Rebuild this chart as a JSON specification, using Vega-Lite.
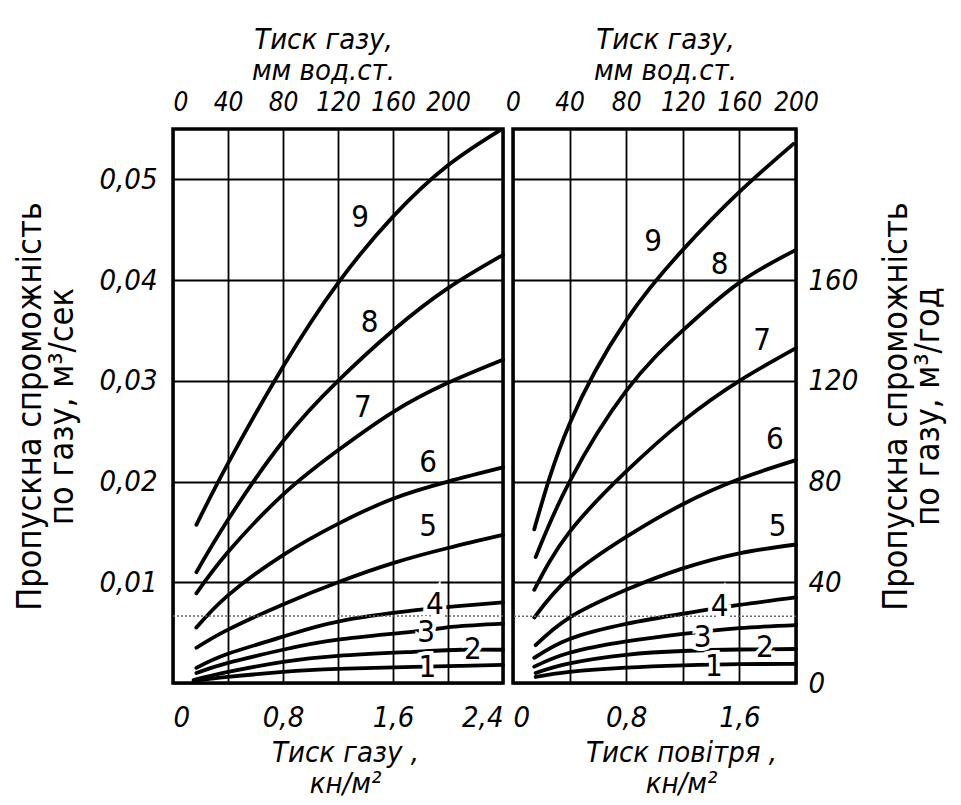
{
  "$schema": "https://vega.github.io/schema/vega-lite/v6.json",
  "background": "white",
  "padding": {"left": 12, "top": 23, "right": 5, "bottom": 5},
  "spacing": -10,
  "datasets": {
    "left": [
      {"c": 9, "p": 0.17, "q": 0.0157}, {"c": 9, "p": 0.4, "q": 0.0218}, {"c": 9, "p": 0.8, "q": 0.0314}, {"c": 9, "p": 1.2, "q": 0.0397}, {"c": 9, "p": 1.6, "q": 0.0463}, {"c": 9, "p": 2.0, "q": 0.0514}, {"c": 9, "p": 2.38, "q": 0.0549},
      {"c": 8, "p": 0.17, "q": 0.0110}, {"c": 8, "p": 0.4, "q": 0.0162}, {"c": 8, "p": 0.8, "q": 0.0240}, {"c": 8, "p": 1.2, "q": 0.0300}, {"c": 8, "p": 1.6, "q": 0.0350}, {"c": 8, "p": 2.0, "q": 0.0392}, {"c": 8, "p": 2.4, "q": 0.0425},
      {"c": 7, "p": 0.17, "q": 0.0089}, {"c": 7, "p": 0.4, "q": 0.0130}, {"c": 7, "p": 0.8, "q": 0.0187}, {"c": 7, "p": 1.2, "q": 0.0231}, {"c": 7, "p": 1.6, "q": 0.0269}, {"c": 7, "p": 2.0, "q": 0.0298}, {"c": 7, "p": 2.4, "q": 0.0321},
      {"c": 6, "p": 0.17, "q": 0.0055}, {"c": 6, "p": 0.4, "q": 0.0087}, {"c": 6, "p": 0.8, "q": 0.0127}, {"c": 6, "p": 1.2, "q": 0.0158}, {"c": 6, "p": 1.6, "q": 0.0183}, {"c": 6, "p": 2.0, "q": 0.0200}, {"c": 6, "p": 2.4, "q": 0.0214},
      {"c": 5, "p": 0.17, "q": 0.0035}, {"c": 5, "p": 0.4, "q": 0.0053}, {"c": 5, "p": 0.8, "q": 0.0078}, {"c": 5, "p": 1.2, "q": 0.0100}, {"c": 5, "p": 1.6, "q": 0.0119}, {"c": 5, "p": 2.0, "q": 0.0134}, {"c": 5, "p": 2.4, "q": 0.0147},
      {"c": 4, "p": 0.17, "q": 0.0015}, {"c": 4, "p": 0.4, "q": 0.0029}, {"c": 4, "p": 0.8, "q": 0.0046}, {"c": 4, "p": 1.2, "q": 0.0061}, {"c": 4, "p": 1.75, "q": 0.0072}, {"c": 4, "p": 2.05, "q": 0.0076}, {"c": 4, "p": 2.4, "q": 0.0080},
      {"c": 3, "p": 0.17, "q": 0.0010}, {"c": 3, "p": 0.4, "q": 0.0020}, {"c": 3, "p": 0.8, "q": 0.0033}, {"c": 3, "p": 1.2, "q": 0.0043}, {"c": 3, "p": 1.75, "q": 0.0051}, {"c": 3, "p": 2.05, "q": 0.0056}, {"c": 3, "p": 2.4, "q": 0.0059},
      {"c": 2, "p": 0.15, "q": 0.0003}, {"c": 2, "p": 0.4, "q": 0.0011}, {"c": 2, "p": 0.8, "q": 0.0021}, {"c": 2, "p": 1.2, "q": 0.0027}, {"c": 2, "p": 1.75, "q": 0.0031}, {"c": 2, "p": 2.1, "q": 0.0033}, {"c": 2, "p": 2.4, "q": 0.0033},
      {"c": 1, "p": 0.15, "q": 0.0002}, {"c": 1, "p": 0.4, "q": 0.0006}, {"c": 1, "p": 0.8, "q": 0.0011}, {"c": 1, "p": 1.2, "q": 0.0014}, {"c": 1, "p": 1.75, "q": 0.0016}, {"c": 1, "p": 2.1, "q": 0.0017}, {"c": 1, "p": 2.4, "q": 0.0018}
    ],
    "right": [
      {"c": 9, "p": 0.15, "q": 61}, {"c": 9, "p": 0.4, "q": 103}, {"c": 9, "p": 0.8, "q": 144}, {"c": 9, "p": 1.2, "q": 172}, {"c": 9, "p": 1.6, "q": 195}, {"c": 9, "p": 1.98, "q": 214},
      {"c": 8, "p": 0.16, "q": 50}, {"c": 8, "p": 0.4, "q": 80}, {"c": 8, "p": 0.8, "q": 116}, {"c": 8, "p": 1.2, "q": 140}, {"c": 8, "p": 1.6, "q": 159}, {"c": 8, "p": 2.0, "q": 172},
      {"c": 7, "p": 0.15, "q": 37}, {"c": 7, "p": 0.4, "q": 60}, {"c": 7, "p": 0.8, "q": 84}, {"c": 7, "p": 1.2, "q": 104}, {"c": 7, "p": 1.6, "q": 120}, {"c": 7, "p": 2.0, "q": 133},
      {"c": 6, "p": 0.15, "q": 26}, {"c": 6, "p": 0.4, "q": 42}, {"c": 6, "p": 0.8, "q": 58}, {"c": 6, "p": 1.2, "q": 71}, {"c": 6, "p": 1.6, "q": 81}, {"c": 6, "p": 2.0, "q": 88.5},
      {"c": 5, "p": 0.16, "q": 15}, {"c": 5, "p": 0.4, "q": 26}, {"c": 5, "p": 0.8, "q": 37}, {"c": 5, "p": 1.2, "q": 45.5}, {"c": 5, "p": 1.6, "q": 51.5}, {"c": 5, "p": 2.0, "q": 55},
      {"c": 4, "p": 0.15, "q": 10}, {"c": 4, "p": 0.4, "q": 17.5}, {"c": 4, "p": 0.8, "q": 23.5}, {"c": 4, "p": 1.2, "q": 27.5}, {"c": 4, "p": 1.6, "q": 31}, {"c": 4, "p": 2.0, "q": 34},
      {"c": 3, "p": 0.15, "q": 6.5}, {"c": 3, "p": 0.4, "q": 12}, {"c": 3, "p": 0.8, "q": 16.5}, {"c": 3, "p": 1.2, "q": 19.5}, {"c": 3, "p": 1.6, "q": 21.8}, {"c": 3, "p": 2.0, "q": 23},
      {"c": 2, "p": 0.16, "q": 4}, {"c": 2, "p": 0.4, "q": 7.8}, {"c": 2, "p": 0.8, "q": 11.2}, {"c": 2, "p": 1.2, "q": 12.7}, {"c": 2, "p": 1.6, "q": 13.3}, {"c": 2, "p": 2.0, "q": 13.5},
      {"c": 1, "p": 0.16, "q": 2.4}, {"c": 1, "p": 0.4, "q": 4.4}, {"c": 1, "p": 0.8, "q": 6.1}, {"c": 1, "p": 1.2, "q": 7}, {"c": 1, "p": 1.6, "q": 7.5}, {"c": 1, "p": 2.0, "q": 7.6}
    ],
    "labelsL": [
      {"c": "9", "p": 1.36, "q": 0.0462}, {"c": "8", "p": 1.43, "q": 0.0357}, {"c": "7", "p": 1.38, "q": 0.0273},
      {"c": "6", "p": 1.855, "q": 0.0218}, {"c": "5", "p": 1.855, "q": 0.0155}, {"c": "4", "p": 1.905, "q": 0.0077},
      {"c": "3", "p": 1.84, "q": 0.0050}, {"c": "2", "p": 2.18, "q": 0.0033}, {"c": "1", "p": 1.85, "q": 0.0015}
    ],
    "labelsR": [
      {"c": "9", "p": 0.99, "q": 175}, {"c": "8", "p": 1.46, "q": 166}, {"c": "7", "p": 1.76, "q": 136},
      {"c": "6", "p": 1.85, "q": 96.5}, {"c": "5", "p": 1.87, "q": 62}, {"c": "4", "p": 1.46, "q": 30},
      {"c": "3", "p": 1.34, "q": 18}, {"c": "2", "p": 1.78, "q": 14}, {"c": "1", "p": 1.42, "q": 6.4}
    ],
    "scanL": [{"q": 0.00665}],
    "scanR": [{"q": 26.5}]
  },
  "hconcat": [
    {
      "width": 330,
      "height": 554,
      "resolve": {"axis": {"x": "independent"}},
      "layer": [
        {
          "data": {"name": "left"},
          "mark": {"type": "line", "color": "black", "strokeWidth": 3.8, "interpolate": "natural", "strokeCap": "round"},
          "encoding": {
            "x": {"field": "p", "type": "quantitative", "scale": {"domain": [0, 2.4], "nice": false},
              "axis": {"orient": "bottom", "values": [0, 0.4, 0.8, 1.2, 1.6, 2, 2.4], "labelFlush": true, "labelOverlap": false,
                "labelExpr": "(round(datum.value*10) % 8 == 0) ? (datum.value == 0 ? '0' : replace(format(datum.value, '.1f'), '.', ',')) : ''",
                "labelPadding": 20, "title": ["Тиск газу ,", "кн/м²"], "titlePadding": 6, "titleX": 172}},
            "y": {"field": "q", "type": "quantitative", "scale": {"domain": [0, 0.055], "nice": false},
              "axis": {"orient": "left", "values": [0, 0.01, 0.02, 0.03, 0.04, 0.05],
                "labelExpr": "datum.value == 0 ? '' : replace(format(datum.value, '.2f'), '.', ',')",
                "labelPadding": 16, "title": ["Пропускна     спроможність", "по газу,  м³/сек"], "titleFontStyle": "normal", "titleFontSize": 34, "titleLineHeight": 32, "titlePadding": 19}},
            "detail": {"field": "c", "type": "nominal"}
          }
        },
        {
          "data": {"name": "scanL"},
          "mark": {"type": "rule", "color": "#666", "strokeWidth": 1.5, "strokeDash": [2, 2]},
          "encoding": {"y": {"field": "q", "type": "quantitative"}}
        },
        {
          "data": {"name": "labelsL"},
          "mark": {"type": "text", "fill": "white", "stroke": "white", "strokeWidth": 8, "fontSize": 31, "baseline": "middle", "align": "center"},
          "encoding": {
            "x": {"field": "p", "type": "quantitative",
              "axis": {"orient": "top", "grid": false, "values": [0, 0.4, 0.8, 1.2, 1.6, 2], "labelFlush": true, "labelOverlap": false, "labelFontSize": 26,
                "labelExpr": "format(round(datum.value*100), 'd')", "labelPadding": 14,
                "title": ["Тиск газу,", "мм вод.ст."], "titlePadding": 4, "titleX": 150}},
            "y": {"field": "q", "type": "quantitative"},
            "text": {"field": "c"}
          }
        },
        {
          "data": {"name": "labelsL"},
          "mark": {"type": "text", "color": "black", "fontSize": 31, "baseline": "middle", "align": "center"},
          "encoding": {
            "x": {"field": "p", "type": "quantitative", "axis": null},
            "y": {"field": "q", "type": "quantitative"},
            "text": {"field": "c"}
          }
        }
      ]
    },
    {
      "width": 283,
      "height": 554,
      "resolve": {"axis": {"x": "independent"}},
      "layer": [
        {
          "data": {"name": "right"},
          "mark": {"type": "line", "color": "black", "strokeWidth": 3.8, "interpolate": "natural", "strokeCap": "round"},
          "encoding": {
            "x": {"field": "p", "type": "quantitative", "scale": {"domain": [0, 2.0], "nice": false},
              "axis": {"orient": "bottom", "values": [0, 0.4, 0.8, 1.2, 1.6, 2], "labelFlush": true, "labelOverlap": false,
                "labelExpr": "(round(datum.value*10) % 8 == 0) ? (datum.value == 0 ? '0' : replace(format(datum.value, '.1f'), '.', ',')) : ''",
                "labelPadding": 20, "title": ["Тиск повітря ,", "кн/м²"], "titlePadding": 6, "titleX": 168}},
            "y": {"field": "q", "type": "quantitative", "scale": {"domain": [0, 220], "nice": false},
              "axis": {"orient": "right", "values": [0, 40, 80, 120, 160, 200], "labelOverlap": false,
                "labelExpr": "datum.value == 200 ? '' : datum.label",
                "labelPadding": 12, "title": ["Пропускна     спроможність", "по газу, м³/год"], "titleAngle": 270, "titleFontStyle": "normal", "titleFontSize": 34, "titleLineHeight": 32, "titlePadding": 24}},
            "detail": {"field": "c", "type": "nominal"}
          }
        },
        {
          "data": {"name": "scanR"},
          "mark": {"type": "rule", "color": "#666", "strokeWidth": 1.5, "strokeDash": [2, 2]},
          "encoding": {"y": {"field": "q", "type": "quantitative"}}
        },
        {
          "data": {"name": "labelsR"},
          "mark": {"type": "text", "fill": "white", "stroke": "white", "strokeWidth": 8, "fontSize": 31, "baseline": "middle", "align": "center"},
          "encoding": {
            "x": {"field": "p", "type": "quantitative",
              "axis": {"orient": "top", "grid": false, "values": [0, 0.4, 0.8, 1.2, 1.6, 2], "labelFlush": false, "labelOverlap": false, "labelFontSize": 26,
                "labelExpr": "format(round(datum.value*100), 'd')", "labelPadding": 14,
                "title": ["Тиск газу,", "мм вод.ст."], "titlePadding": 4, "titleX": 152}},
            "y": {"field": "q", "type": "quantitative"},
            "text": {"field": "c"}
          }
        },
        {
          "data": {"name": "labelsR"},
          "mark": {"type": "text", "color": "black", "fontSize": 31, "baseline": "middle", "align": "center"},
          "encoding": {
            "x": {"field": "p", "type": "quantitative", "axis": null},
            "y": {"field": "q", "type": "quantitative"},
            "text": {"field": "c"}
          }
        }
      ]
    }
  ],
  "config": {
    "font": "DejaVu Sans Condensed, DejaVu Sans, sans-serif",
    "view": {"stroke": "black", "strokeWidth": 3.5},
    "axis": {
      "domain": false, "ticks": false, "grid": true, "gridColor": "black", "gridWidth": 1.8, "gridOpacity": 1,
      "labelFont": "DejaVu Sans Condensed, DejaVu Sans, sans-serif",
      "labelFontSize": 29, "labelFontStyle": "italic", "labelColor": "black",
      "titleFont": "DejaVu Sans Condensed, DejaVu Sans, sans-serif",
      "titleFontSize": 29, "titleFontWeight": "normal", "titleFontStyle": "italic", "titleColor": "black", "titleLineHeight": 31
    },
    "text": {"font": "DejaVu Sans Condensed, DejaVu Sans, sans-serif"}
  }
}
